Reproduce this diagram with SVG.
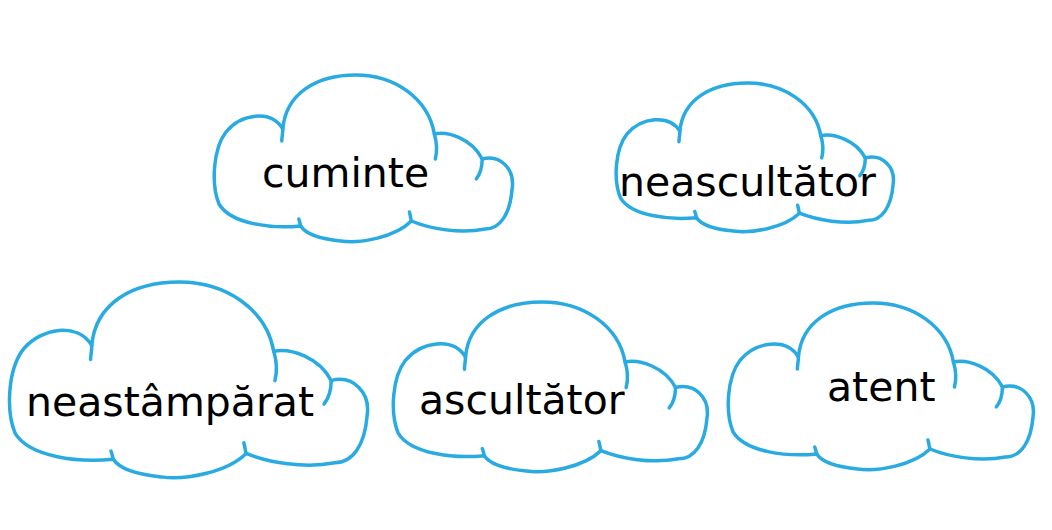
<svg xmlns="http://www.w3.org/2000/svg" xmlns:xlink="http://www.w3.org/1999/xlink" width="1052" height="530" viewBox="0 0 1052 530">
<style>
.cloud{fill:#ffffff;stroke:#29abe2;stroke-width:3.5;stroke-linejoin:round;stroke-linecap:round;vector-effect:non-scaling-stroke}
.tail{fill:none;stroke:#29abe2;stroke-width:3.5;stroke-linecap:round;vector-effect:non-scaling-stroke}
.lbl{font-family:"DejaVu Sans",sans-serif;font-size:41px;fill:#000000}
</style>
<defs>
<g id="cloudShape">
<path class="cloud" d="M282,130 C285,95 315,76 355,76 C395,76 428,100 434,135 C448,132 472,140 482,160 C500,155 515,170 512,190 C510,215 500,230 485,230 C460,235 430,230 411,222 C395,238 360,245 340,242 C320,240 305,235 300,227 C270,230 230,225 218,205 C210,185 212,150 225,133 C240,115 270,110 282,130 Z"/>
<path class="tail" d="M282,130 C282,135 281,138 281,142"/>
<path class="tail" d="M434,135 C437,145 437,152 435,160"/>
<path class="tail" d="M482,160 C482,168 480,175 476,180"/>
<path class="tail" d="M411,222 C410,219 410,216 409,213"/>
<path class="tail" d="M300,227 C299,224 299,222 298,220"/>
</g>
</defs>
<g id="connectors"></g>
<g id="node-cuminte">
<use xlink:href="#cloudShape" href="#cloudShape" transform="translate(213,75) scale(0.997,1) translate(-212,-76)"/>
<text class="lbl" x="262" y="187">cuminte</text>
</g>
<g id="node-neascultator">
<use xlink:href="#cloudShape" href="#cloudShape" transform="translate(615,83) scale(0.927,0.892) translate(-212,-76)"/>
<text class="lbl" x="619" y="196">neascultător</text>
</g>
<g id="node-neastamparat">
<use xlink:href="#cloudShape" href="#cloudShape" transform="translate(8,282) scale(1.197,1.174) translate(-212,-76)"/>
<text class="lbl" x="26" y="416">neastâmpărat</text>
</g>
<g id="node-ascultator">
<use xlink:href="#cloudShape" href="#cloudShape" transform="translate(392,302) scale(1.05,1.018) translate(-212,-76)"/>
<text class="lbl" x="419" y="414">ascultător</text>
</g>
<g id="node-atent">
<use xlink:href="#cloudShape" href="#cloudShape" transform="translate(727,303) scale(1.02,1) translate(-212,-76)"/>
<text class="lbl" x="827" y="401">atent</text>
</g>
</svg>
